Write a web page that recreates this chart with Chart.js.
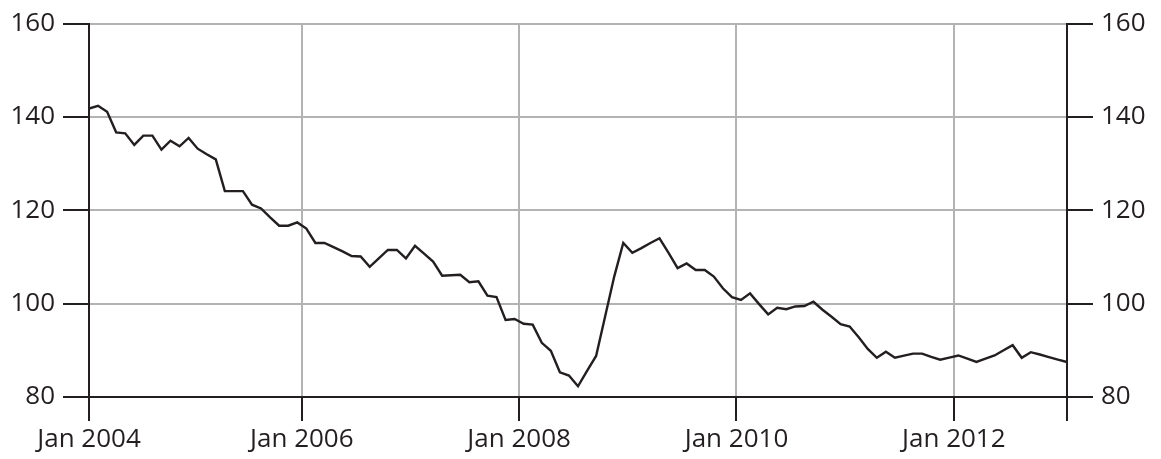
<!DOCTYPE html>
<html>
<head>
<meta charset="utf-8">
<script src="https://cdn.jsdelivr.net/npm/chart.js@4"></script>
<style>
  html, body { margin: 0; padding: 0; background: #fff; }
</style>
</head>
<body>
<canvas id="chart" width="1161" height="459"></canvas>
<script>
// monthly index, Jan 2004 .. Jan 2013
const start_year = 2004
const values = [
    141.8, 142.4, 141.1, 136.7, 136.5, 134.0, 136.0, 136.0, 133.0, 134.9, 133.7, 135.5,
    133.2, 132.0, 130.9, 124.1, 124.1, 124.1, 121.2, 120.4, 118.5, 116.7, 116.7, 117.4,
    116.1, 113.0, 113.0, 112.1, 111.2, 110.2, 110.1, 107.9, 109.7, 111.5, 111.5, 109.7,
    112.4, 110.7, 109.0, 106.0, 106.1, 106.2, 104.6, 104.8, 101.7, 101.4, 96.5, 96.7,
    95.7, 95.5, 91.6, 89.9, 85.3, 84.6, 82.3, 85.6, 88.8, 97.3, 105.8, 113.0,
    110.9, 111.9, 113.0, 114.0, 110.9, 107.6, 108.6, 107.2, 107.2, 105.8, 103.3, 101.4,
    100.8, 102.2, 99.9, 97.7, 99.1, 98.8, 99.4, 99.5, 100.4, 98.7, 97.2, 95.6,
    95.1, 92.8, 90.3, 88.4, 89.7, 88.4, 88.85, 89.3, 89.3, 88.6, 88.0, 88.45,
    88.9, 88.2, 87.5, 88.2, 88.9, 90.0, 91.1, 88.4, 89.6, 89.1, 88.55, 88.0,
    87.5
]
const tick_years = [2006, 2008, 2010, 2012]
const x_labels = ['Jan 2004', 'Jan 2006', 'Jan 2008', 'Jan 2010', 'Jan 2012', '']
const y_ticks = [80, 100, 120, 140, 160]

// points sit mid-month
const points = values.map((v, i) => ({x: start_year + (i + 0.5) / 12, y: v}))
const x_min = points[0].x
const x_max = points[points.length - 1].x
const x_tick_values = [x_min, ...tick_years, x_max]

const ink = '#231f20'
const grey = '#b3b3b3'
const font = {family: 'Open Sans', size: 26}

const hide_edges = ctx => (ctx.index == 0 || ctx.index == ctx.scale.ticks.length - 1) ? 'rgba(0,0,0,0)' : grey

const y_axis = (side, width) => ({
    position: side,
    min: y_ticks[0],
    max: y_ticks[y_ticks.length - 1],
    afterBuildTicks: axis => { axis.ticks = y_ticks.map(v => ({value: v})) },
    afterFit: axis => { axis.width = width },
    ticks: {color: ink, font: font, padding: 8},
    grid: {
        display: true,
        drawOnChartArea: side == 'left',
        color: ctx => ctx.index == 0 ? 'rgba(0,0,0,0)' : grey,
        lineWidth: 2,
        tickColor: ink,
        tickWidth: 2,
        tickLength: 26
    },
    border: {display: true, color: ink, width: 2}
})

new Chart(document.querySelector('#chart'), {
    type: 'line',
    data: {
        datasets: [{
            data: points,
            borderColor: ink,
            borderWidth: 2.4,
            pointRadius: 0,
            tension: 0,
            yAxisID: 'y'
        }]
    },
    options: {
        responsive: false,
        animation: false,
        devicePixelRatio: 1,
        layout: {padding: {top: 21, left: 0, right: 0, bottom: 0}},
        plugins: {legend: {display: false}, tooltip: {enabled: false}},
        scales: {
            x: {
                type: 'linear',
                min: x_min,
                max: x_max,
                afterBuildTicks: axis => { axis.ticks = x_tick_values.map(v => ({value: v})) },
                afterFit: axis => { axis.height = 62 },
                ticks: {
                    color: ink,
                    font: font,
                    padding: 3,
                    maxRotation: 0,
                    autoSkip: false,
                    callback: (value, index) => x_labels[index]
                },
                grid: {
                    color: hide_edges,
                    lineWidth: 2,
                    tickColor: ink,
                    tickWidth: 2,
                    tickLength: 24
                },
                border: {display: true, color: ink, width: 2}
            },
            y: y_axis('left', 89),
            y2: y_axis('right', 94)
        }
    }
})
</script>
</body>
</html>
